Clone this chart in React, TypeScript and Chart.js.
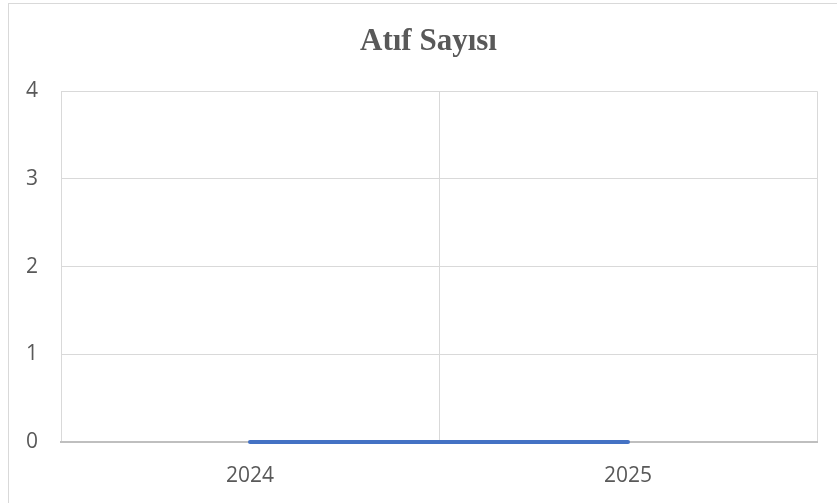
import React, { useEffect, useRef } from "react";
import { Chart, registerables } from "chart.js";

Chart.register(...registerables);

const categories = ["2024", "2025"];
const citationCounts = [0, 0];
const yTicks = [0, 1, 2, 3, 4];
const chartTitle = "Atıf Sayısı";

export default function App() {
  const ref = useRef<HTMLCanvasElement | null>(null);

  useEffect(() => {
    if (!ref.current) return;
    const chart = new Chart(ref.current, {
      type: "line",
      data: {
        labels: categories,
        datasets: [
          {
            label: chartTitle,
            data: citationCounts,
            borderColor: "#4472C4",
            backgroundColor: "#4472C4",
            borderWidth: 4,
            borderCapStyle: "round",
            pointRadius: 0,
            fill: false,
            clip: false,
          },
        ],
      },
      options: {
        responsive: true,
        maintainAspectRatio: false,
        animation: false,
        layout: { padding: { left: 20, right: 0, top: 0, bottom: 0 } },
        plugins: {
          legend: { display: false },
          tooltip: { enabled: false },
          title: {
            display: true,
            text: chartTitle,
            color: "#595959",
            font: { family: "'Liberation Serif', 'Times New Roman', serif", size: 31, weight: "bold", lineHeight: 1.2 },
            padding: { top: 23, bottom: 31 },
          },
        },
        scales: {
          x: {
            type: "category",
            offset: true,
            afterFit: (scale: any) => {
              scale.height = 61;
            },
            grid: {
              offset: true,
              color: "#d9d9d9",
              lineWidth: 1,
              drawTicks: false,
            },
            border: { color: "#bfbfbf", width: 2 },
            ticks: {
              color: "#595959",
              font: { family: "'Open Sans', 'Liberation Sans', sans-serif", size: 21, lineHeight: 1.2 },
              padding: 21,
            },
          },
          y: {
            min: 0,
            max: 4,
            afterBuildTicks: (scale: any) => {
              scale.ticks = yTicks.map((v) => ({ value: v }));
            },
            afterFit: (scale: any) => {
              scale.width = 41;
            },
            grid: { color: "#d9d9d9", lineWidth: 1, drawTicks: false },
            border: { display: false },
            ticks: {
              color: "#595959",
              font: { family: "'Open Sans', 'Liberation Sans', sans-serif", size: 21, lineHeight: 1.2 },
              padding: 23,
            },
          },
          yRight: {
            position: "right",
            display: true,
            min: 0,
            max: 4,
            afterFit: (scale: any) => {
              scale.width = 20;
            },
            grid: { display: false },
            border: { display: false },
            ticks: { display: false },
          },
        },
      },
    });
    return () => chart.destroy();
  }, []);

  return (
    <>
      <div style={{ position: "absolute", left: 0, top: 0, width: 837, height: 503, background: "#fff" }}>
        <canvas ref={ref} />
      </div>
      <div
        style={{
          position: "absolute",
          left: 8,
          top: 3,
          width: 829,
          height: 500,
          borderLeft: "1px solid #d9d9d9",
          borderTop: "1px solid #d9d9d9",
          boxSizing: "border-box",
          pointerEvents: "none",
        }}
      />
    </>
  );
}
